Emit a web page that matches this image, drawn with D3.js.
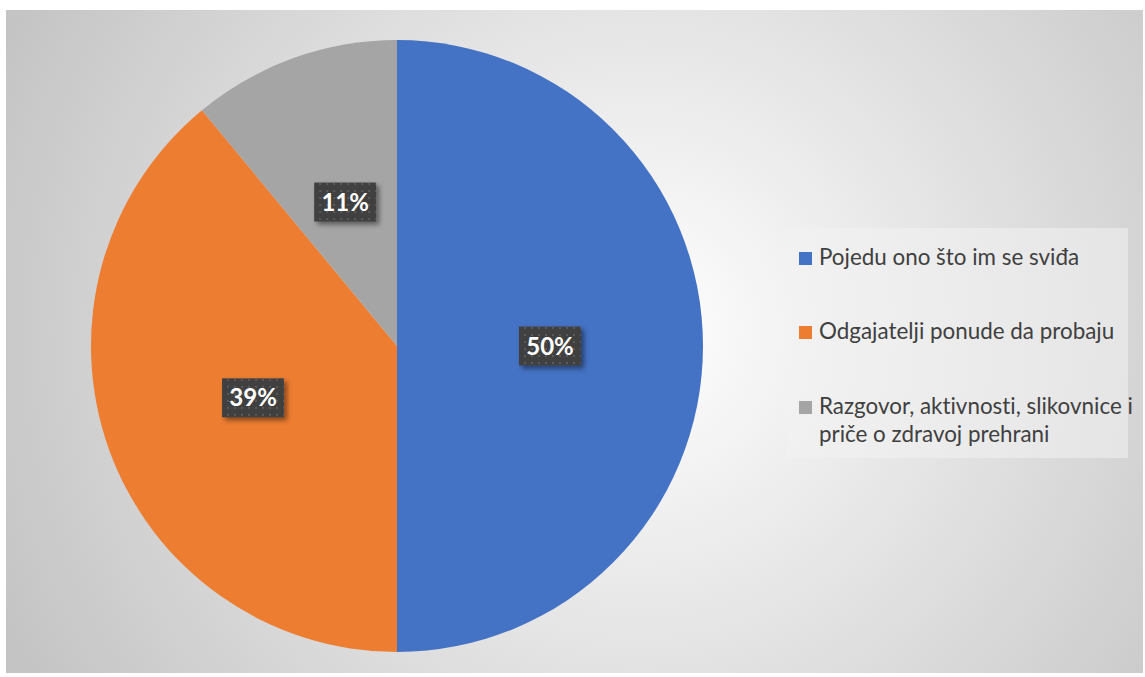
<!DOCTYPE html>
<html>
<head>
<meta charset="utf-8">
<script src="https://cdn.jsdelivr.net/npm/d3@7"></script>
<style>
  body { margin: 0; background: #ffffff; }
  svg { display: block; }
  text { font-variant-ligatures: none; font-feature-settings: "liga" 0; }
</style>
</head>
<body>
<svg id="chart" width="1145" height="677"></svg>
<script>
// data
const categories = ["Pojedu ono što im se sviđa", "Odgajatelji ponude da probaju", "Razgovor, aktivnosti, slikovnice i priče o zdravoj prehrani"];
const values = [50, 39, 11];
const labels = ["50%", "39%", "11%"];
const legendLines = [["Pojedu ono što im se sviđa"], ["Odgajatelji ponude da probaju"], ["Razgovor, aktivnosti, slikovnice i", "priče o zdravoj prehrani"]];
const colors = ["#4472C4", "#ED7D31", "#A5A5A5"];

const svg = d3.select("#chart");
const defs = svg.append("defs");

// background gradient
let grad = defs.append("radialGradient")
    .attr("id", "bg")
    .attr("gradientUnits", "userSpaceOnUse")
    .attr("cx", 640).attr("cy", 330).attr("r", 700);
grad.append("stop").attr("offset", "0%").attr("stop-color", "#ffffff");
grad.append("stop").attr("offset", "100%").attr("stop-color", "#c4c4c4");

// dotted label texture
let pat = defs.append("pattern")
    .attr("id", "dots")
    .attr("patternUnits", "userSpaceOnUse")
    .attr("width", 7).attr("height", 7);
pat.append("rect").attr("width", 7).attr("height", 7).attr("fill", "#404040");
pat.append("rect").attr("x", 2).attr("y", 2).attr("width", 2).attr("height", 2).attr("fill", "#5a5a5a");

let filt = defs.append("filter").attr("id", "shadow")
    .attr("x", "-30%").attr("y", "-30%").attr("width", "170%").attr("height", "170%");
filt.append("feDropShadow")
    .attr("dx", 3).attr("dy", 3).attr("stdDeviation", 2.5)
    .attr("flood-color", "#000").attr("flood-opacity", 0.45);

svg.append("rect")
    .attr("x", 6).attr("y", 10)
    .attr("width", 1137).attr("height", 663)
    .attr("fill", "url(#bg)");

// pie
const cx = 397, cy = 346, radius = 306;
const g = svg.append("g").attr("transform", `translate(${cx},${cy})`);

const pie = d3.pie().sort(null).value(d => d);
const arcs = pie(values);
const arc = d3.arc().innerRadius(0).outerRadius(radius);
const labelArc = d3.arc().innerRadius(radius * 0.5).outerRadius(radius * 0.5);

g.selectAll("path.slice")
    .data(arcs)
    .enter()
    .append("path")
    .attr("class", "slice")
    .attr("d", arc)
    .attr("fill", (d, i) => colors[i]);

// data labels
const boxW = 62, boxH = 39;
let lbl = g.selectAll("g.lbl")
    .data(arcs)
    .enter()
    .append("g")
    .attr("class", "lbl")
    .attr("transform", d => {
        let c = labelArc.centroid(d);
        return "translate(" + c[0] + "," + c[1] + ")";
    });

lbl.append("rect")
    .attr("x", -boxW / 2).attr("y", -boxH / 2)
    .attr("width", boxW).attr("height", boxH)
    .attr("fill", "url(#dots)")
    .attr("filter", "url(#shadow)");

lbl.append("text")
    .attr("text-anchor", "middle")
    .attr("dy", "0.36em")
    .attr("font-family", "Lato, 'Open Sans', sans-serif")
    .attr("font-weight", "bold")
    .attr("font-size", "24px")
    .attr("fill", "#ffffff")
    .text((d, i) => labels[i]);

// legend
const legend = svg.append("g");
legend.append("rect")
    .attr("x", 787).attr("y", 228)
    .attr("width", 341).attr("height", 230)
    .attr("fill", "#f2f2f2")
    .attr("fill-opacity", 0.55);

const itemY = [265, 339, 414];
let item = legend.selectAll("g.item")
    .data(categories)
    .enter()
    .append("g")
    .attr("class", "item");

item.append("rect")
    .attr("x", 799)
    .attr("y", (d, i) => itemY[i] - 13)
    .attr("width", 13).attr("height", 13)
    .attr("fill", (d, i) => colors[i]);

item.append("text")
    .attr("x", 819)
    .attr("y", (d, i) => itemY[i])
    .attr("font-family", "Lato, 'Open Sans', sans-serif")
    .attr("font-size", "22.4px")
    .attr("fill", "#404040")
    .selectAll("tspan")
    .data((d, i) => legendLines[i])
    .enter()
    .append("tspan")
    .attr("x", 819)
    .attr("dy", (d, j) => j === 0 ? 0 : 28)
    .text(d => d);
</script>
</body>
</html>
